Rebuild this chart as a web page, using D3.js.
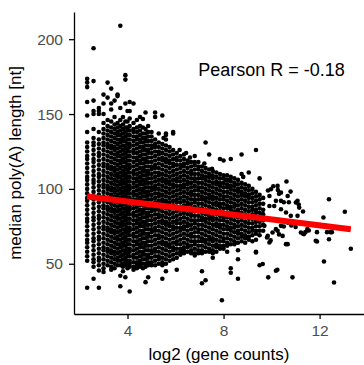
<!DOCTYPE html>
<html><head><meta charset="utf-8">
<script src="https://cdn.jsdelivr.net/npm/d3@7"></script>
<style>
html,body{margin:0;padding:0;background:#fff;}
svg{display:block;font-family:"Liberation Sans",Arial,Helvetica,sans-serif;}
</style></head><body>
<svg id="chart" width="364" height="365"></svg>
<script>
// log2 gene-count positions of the crowded point columns
const colX = [2.32, 2.585, 2.807, 3.0, 3.17, 3.32, 3.46, 3.585, 3.70, 3.81, 3.91, 4.0, 4.09,
  4.25, 4.39, 4.52, 4.64, 4.75, 4.86, 5.0, 5.15, 5.3, 5.45, 5.6, 5.75, 5.9, 6.05, 6.2, 6.35,
  6.5, 6.65, 6.8, 6.95, 7.1, 7.25, 7.4, 7.55, 7.7, 7.85, 8.0, 8.15, 8.3, 8.45, 8.6, 8.75,
  8.9, 9.05, 9.2, 9.35, 9.5, 9.65];
// median poly(A) lengths (nt) of the genes in each column
const colY = [
  "173.5 171 168 158 149 138 131 128 125 122 120 117 114 111 108 106 103 100 97 94 92 89 86 83 80 78 75 72 69 66 64 61 58 55 52 34",
  "194 172 159 152 150 140 134 131 129 126 123 120 118 115 112 109 106 104 101 98 95 93 90 87 84 81 79 76 73 70 67 65 62 59 56 53 51 48 40",
  "154 152 150 138 133 130 127 124 122 119 116 113 110 108 105 102 99 96 94 91 88 85 82 80 77 74 71 68 66 63 60 57 54 52 49 45.5 34",
  "163 157 150 144 140 137 134 131 129 126 123 120 117 115 112 109 106 103 101 98 95 92 89 87 84 81 78 75 73 70 67 64 61 59 56 53 50 47 44.5",
  "171 161 146 142 139 136 133 130 128 125 122 119 116 114 111 108 105 102 100 97 94 91 88 86 83 80 77 74 72 69 66 63 60 58 55 52 49",
  "167 157 153 145 141 138 135 132 129 127 124 121 118 115 113 110 107 104 101 99 96 93 90 87 85 82 79 76 73 71 68 65 62 59 57 54 51 48 46",
  "159 148 143 140 137 134 131 128 126 123 120 117 114 112 109 106 103 100 98 95 92 89 86 84 81 78 75 72 70 67 64 61 58 56 53 50 47",
  "163 162 144 141 138 136 133 130 127 124 122 119 116 113 110 108 105 102 99 96 94 91 88 85 82 80 77 74 71 68 66 63 60 57 54 52 49",
  "209 154 146 142 139 136 133 131 128 125 122 119 117 114 111 108 105 103 100 97 94 91 89 86 83 80 77 75 72 69 66 63 61 58 55 52 49 42 35",
  "148 143 140 137 134 132 129 126 123 120 118 115 112 109 106 104 101 98 95 92 90 87 84 81 78 76 73 70 67 64 62 59 56 53 50 48 45",
  "176 173 157 145 141 138 135 132 129 127 124 121 118 115 113 110 107 104 101 99 96 93 90 87 85 82 79 76 73 71 68 65 62 59 57 54 51 49 41",
  "152 145 141 139 136 133 130 127 125 122 119 116 113 111 108 105 102 99 97 94 91 88 85 83 80 77 74 71 69 66 63 60 57 55 52 49 47",
  "158 152 147 142 139 136 133 130 128 125 122 119 116 114 111 108 105 102 100 97 94 91 88 86 83 80 77 74 72 69 66 63 60 58 55 52 50 48 31.5",
  "157 144 140 138 135 132 129 126 124 121 118 115 112 110 107 104 101 98 96 93 90 87 84 82 79 76 73 70 68 65 62 59 56 54 51 48 46",
  "146 141 138 135 133 130 127 124 121 119 116 113 110 107 105 102 99 96 93 91 88 85 82 79 77 74 71 68 65 63 60 57 54 51 49 47",
  "148 142 139 136 133 131 128 125 122 119 117 114 111 108 105 103 100 97 94 91 89 86 83 80 77 75 72 69 66 63 61 58 55 52 50 48",
  "146.7 141 137 134 131 128 126 123 120 117 114 112 109 106 103 100 98 95 92 89 86 84 81 78 75 72 70 67 64 61 58 56 53 50 47",
  "151 140 137 134 132 129 126 123 120 118 115 112 109 106 104 101 98 95 92 90 87 84 81 78 76 73 70 67 64 62 59 56 53 50 48 37.7",
  "142 138 135 132 129 126 124 121 118 115 112 110 107 104 101 98 96 93 90 87 84 82 79 76 73 70 68 65 62 59 56 54 51 49 41",
  "138 135 132 129 127 124 121 118 115 113 110 107 104 101 99 96 93 90 87 85 82 79 76 73 71 68 65 62 59 57 54 51 49",
  "151 148 133 130 128 125 122 119 116 114 111 108 105 102 100 97 94 91 88 86 83 80 77 74 72 69 66 63 60 58 55 52 49",
  "137 131 128 125 123 120 117 114 111 109 106 103 100 97 95 92 89 86 83 81 78 75 72 69 67 64 61 58 55 53 50",
  "149 130 127 124 121 119 116 113 110 107 105 102 99 96 93 91 88 85 82 79 77 74 71 68 65 63 60 57 54 51 49 40",
  "137 136 133 129 126 123 120 118 115 112 109 106 104 101 98 95 92 90 87 84 81 78 76 73 70 67 64 62 59 56 53 50 45",
  "128 125 122 119 117 114 111 108 105 103 100 97 94 91 89 86 83 80 77 75 72 69 66 63 61 58 55 52",
  "138 137 126 123 120 117 115 112 109 106 103 101 98 95 92 89 87 84 81 78 75 73 70 67 64 61 59 56 53",
  "124 121 119 116 113 110 107 105 102 99 96 93 91 88 85 82 79 77 74 71 68 65 63 60 57 54 46",
  "122 119 116 114 111 108 105 102 100 97 94 91 88 86 83 80 77 74 72 69 66 63 60 58 56",
  "123 120 117 115 112 109 106 103 101 98 95 92 89 87 84 81 78 75 73 70 67 64 61 59 57",
  "119 117 114 111 108 105 103 100 97 94 91 89 86 83 80 77 75 72 69 66 63 61 58",
  "118 115 112 110 107 104 101 98 96 93 90 87 84 82 79 76 73 70 68 65 62 59 57",
  "122 118 116 113 110 107 105 102 99 96 93 91 88 85 82 79 77 74 71 68 65 63 60 57 55.5",
  "118 115 113 110 107 104 101 99 96 93 90 87 85 82 79 76 73 71 68 65 62 59 57",
  "115 112 109 107 104 101 98 95 93 90 87 84 81 79 76 73 70 67 65 62 59 57 45 37",
  "131 114 111 108 106 103 100 97 94 92 89 86 83 80 78 75 72 69 66 64 61 58 39",
  "123 113 110 108 105 102 99 96 94 91 88 85 82 80 77 74 71 68 66 63 60 58",
  "112 109 107 104 101 98 95 93 90 87 84 81 79 76 73 70 67 65 62 59 57 54",
  "111 108 105 103 100 97 94 91 89 86 83 80 77 75 72 69 66 63 61 58",
  "120 110 107 104 102 99 96 93 90 88 85 82 79 76 74 71 68 65 62 60",
  "119 109 107 104 101 98 95 93 90 87 84 81 79 76 73 70 67 65 62 60",
  "109 106 103 101 98 95 92 89 87 84 81 78 75 73 70 67 64 62 58",
  "120 108 105 102 100 97 94 91 88 86 83 80 77 74 72 69 66 63 47 44",
  "107 104 102 99 96 93 90 88 85 82 79 76 74 71 68 65 63",
  "106 103 100 98 95 92 89 86 84 81 78 75 72 70 67 64 59 53 40",
  "123 110 104 101 98 96 93 90 87 84 82 79 76 73 70 68 65",
  "103 100 97 95 92 89 86 83 81 78 75 72 69 67 64",
  "111 102 99 96 94 91 88 85 82 80 77 74 71 68 66",
  "100 97 94 91 88 86 83 80 77 74 72 69 65",
  "126 98 95 92 89 86 84 81 78 75 72 70 66 58 57.5",
  "107 96 93 90 87 84 81 78 75 72 69 49",
  "94 90 86 83 79 76 72"
];
// isolated genes: [log2 gene count, median poly(A) length]
const strays = [
  [6.44,124],[6.17,126],[6.6,121],[7.2,117],[7.52,113.5],[8.1,106],[8.26,105.6],[8.82,108],[5.5,134],
  [9.76,80],[9.7,75.3],[9.63,83.1],[9.81,67.5],[9.84,68.6],[9.85,98.9],[9.86,40.9],[9.91,95.3],
  [9.91,88.6],[9.91,64.2],[9.96,65.6],[9.97,99.8],[10.04,70.9],[10.07,101.8],[10.11,88.6],[10.18,92],
  [10.18,73.1],[10.18,45.3],[10.24,46],[10.25,102],[10.25,72],[10.26,99.3],[10.31,96.7],[10.31,69.6],
  [10.39,97.5],[10.39,92],[10.39,86.4],[10.39,75.3],[10.46,68.6],[10.51,91.1],[10.51,74.9],[10.6,84.2],
  [10.6,63.1],[10.62,104.9],[10.67,95.3],[10.67,77.5],[10.67,63.1],[10.72,91.1],[10.79,98.2],[10.8,82],
  [10.82,75.6],[10.87,40.9],[11.0,74.5],[11.01,90.9],[11.08,92],[11.08,82],[11.13,89.6],[11.15,87.5],
  [11.22,70.9],[11.31,84.9],[11.31,70],[11.35,69.8],[11.41,71.1],[11.49,73.1],[11.55,72.2],[11.84,65.3],
  [11.89,71.1],[11.89,64.9],[12.16,80.9],[12.18,51.5],[12.31,71.1],[12.39,93.1],[12.39,66.4],[12.46,71.1],
  [12.51,71.1],[12.6,37.5],[13.05,84.7],[13.3,60],[7.93,25.6],[9.63,49.8]
];
// least-squares fit line, evaluated at the ends of the count range
const fitX = [2.32, 13.3];
const fitY = [94.9, 73.1];
const xTicks = [4, 8, 12];
const yTicks = [50, 100, 150, 200];
const corrLabel = "Pearson R = -0.18";
const corrAt = [10, 180];
const xTitle = "log2 (gene counts)";
const yTitle = "median poly(A) length [nt]";

const genes = [];
colX.forEach((x, i) => {
  colY[i].trim().split(/\s+/).forEach(v => genes.push([x, +v]));
});
strays.forEach(p => genes.push(p));

const panel = {left: 74, right: 364, top: 12, bottom: 314};
const pad = (ext) => { const d = ext[1] - ext[0]; return [ext[0] - 0.05 * d, ext[1] + 0.05 * d]; };

const x = d3.scaleLinear().domain(pad(d3.extent(genes, d => d[0]))).range([panel.left, panel.right]);
const y = d3.scaleLinear().domain(pad(d3.extent(genes, d => d[1]))).range([panel.bottom, panel.top]);

const svg = d3.select("#chart");

svg.append("g").selectAll("circle").data(genes).join("circle")
  .attr("cx", d => x(d[0])).attr("cy", d => y(d[1]))
  .attr("r", 2.3).attr("fill", "#000");

svg.append("path")
  .datum(fitX.map((v, i) => [v, fitY[i]]))
  .attr("d", d3.line().x(d => x(d[0])).y(d => y(d[1])))
  .attr("fill", "none").attr("stroke", "#ff0000").attr("stroke-width", 6);

const styleAxis = g => {
  g.select(".domain").attr("stroke", "#000").attr("stroke-width", 1.3);
  g.selectAll(".tick line").attr("stroke", "#000").attr("stroke-width", 1.3);
  g.selectAll(".tick text").attr("fill", "#4d4d4d").style("font-size", "15.5px")
    .style("font-family", '"Liberation Sans",Arial,Helvetica,sans-serif');
};

svg.append("g").attr("transform", `translate(0,${panel.bottom})`)
  .call(d3.axisBottom(x).tickValues(xTicks).tickSize(5).tickSizeOuter(0).tickPadding(6))
  .call(styleAxis);

svg.append("g").attr("transform", `translate(${panel.left},0)`)
  .call(d3.axisLeft(y).tickValues(yTicks).tickSize(5).tickSizeOuter(0).tickPadding(6))
  .call(styleAxis);

svg.append("text")
  .attr("x", (panel.left + panel.right) / 2).attr("y", 360)
  .attr("text-anchor", "middle").attr("fill", "#000").style("font-size", "17px")
  .text(xTitle);

svg.append("text")
  .attr("transform", `translate(21,${(panel.top + panel.bottom) / 2}) rotate(-90)`)
  .attr("text-anchor", "middle").attr("fill", "#000").style("font-size", "17px")
  .text(yTitle);

svg.append("text")
  .attr("x", x(corrAt[0])).attr("y", y(corrAt[1])).attr("dy", "0.36em")
  .attr("text-anchor", "middle").attr("fill", "#000").style("font-size", "18px")
  .text(corrLabel);
</script>
</body></html>
